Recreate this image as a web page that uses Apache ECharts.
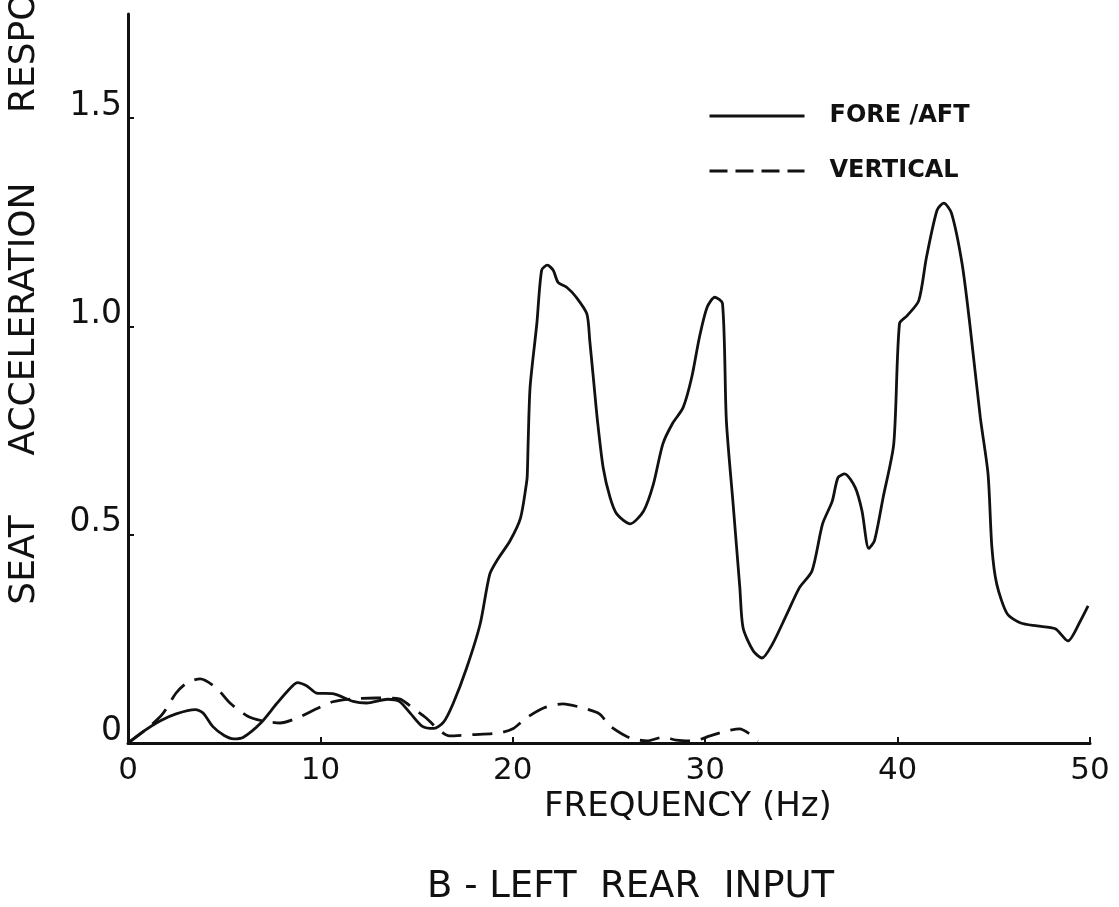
<!DOCTYPE html>
<html>
<head>
<meta charset="utf-8">
<title>Seat acceleration response – left rear input</title>
<script src="https://cdn.jsdelivr.net/npm/echarts@6/dist/echarts.min.js"></script>
<style>
  html, body { margin: 0; padding: 0; background: #fff; }
  #chart { width: 1119px; height: 907px; }
</style>
</head>
<body>
<div id="chart"></div>
<script>
// Fore/aft seat acceleration response vs. frequency (Hz)
const foreAftFreq = [
  0, 0.8, 1.66, 2.5, 3.5, 3.9, 4.4, 5.0, 5.5, 6.0, 6.9, 7.7, 8.3, 8.8, 9.3, 9.8,
  10.7, 11.7, 12.4, 13.5, 14.1, 14.7, 15.3, 15.9, 16.4, 16.9, 17.6, 18.3, 18.8,
  19.2, 19.85, 20.4, 20.7, 20.75, 20.8, 20.9, 21.25, 21.5, 21.8, 22.1, 22.35,
  22.8, 23.3, 23.85, 24.0, 24.2, 24.4, 24.7, 25.05, 25.4, 26.1, 26.8, 27.3,
  27.8, 28.3, 28.85, 29.3, 29.7, 30.1, 30.5, 30.9, 31.1, 31.45, 31.8, 31.97,
  32.5, 32.95, 33.5, 34.25, 34.9, 35.55, 36.1, 36.6, 36.9, 37.25, 37.8, 38.15,
  38.5, 38.8, 39.25, 39.8, 40.1, 40.5, 41.1, 41.5, 42.05, 42.4, 42.8, 43.35,
  43.75, 44.3, 44.7, 44.9, 45.15, 45.7, 46.4, 47.25, 48.2, 48.85, 49.5, 49.9
];
const foreAft = [
  0, 0.028, 0.053, 0.07, 0.08, 0.072, 0.04, 0.018, 0.01, 0.014, 0.048, 0.093,
  0.125, 0.145, 0.137, 0.12, 0.118, 0.10, 0.096, 0.105, 0.1, 0.07, 0.04, 0.035,
  0.05, 0.095, 0.18, 0.285, 0.405, 0.44, 0.485, 0.54, 0.62, 0.64, 0.725, 0.855,
  1.007, 1.135, 1.147, 1.135, 1.106, 1.094, 1.07, 1.03, 0.966, 0.87, 0.774,
  0.66, 0.59, 0.55, 0.526, 0.557, 0.62, 0.718, 0.767, 0.805, 0.878, 0.974,
  1.046, 1.07, 1.055, 0.774, 0.574, 0.373, 0.276, 0.221, 0.204, 0.238, 0.31,
  0.373, 0.413, 0.526, 0.58, 0.637, 0.646, 0.613, 0.557, 0.467, 0.486, 0.59,
  0.718, 1.007, 1.026, 1.062, 1.166, 1.279, 1.296, 1.272, 1.151, 1.007, 0.781,
  0.646, 0.47, 0.382, 0.31, 0.288, 0.281, 0.274, 0.245, 0.293, 0.329
];

// Vertical seat acceleration response vs. frequency (Hz)
const verticalFreq = [
  0, 1.0, 1.8, 2.5, 3.05, 3.75, 4.6, 5.3, 6.2, 7.0, 7.9, 8.8, 9.8, 10.65, 11.7,
  12.9, 14.1, 14.8, 15.5, 16.05, 16.7, 17.9, 19.3, 20.0, 20.7, 21.6, 22.6,
  23.65, 24.5, 25.05, 26.1, 27.0, 27.8, 28.5, 29.4, 30.25, 31.1, 31.8, 32.3, 32.75
];
const vertical = [
  0, 0.035, 0.07, 0.12, 0.144, 0.154, 0.132, 0.096, 0.065, 0.053, 0.048, 0.06,
  0.082, 0.099, 0.106, 0.108, 0.106, 0.084, 0.06, 0.036, 0.017, 0.02, 0.024,
  0.034, 0.06, 0.084, 0.094, 0.084, 0.07, 0.041, 0.012, 0.005, 0.014, 0.007,
  0.005, 0.017, 0.029, 0.034, 0.022, 0.005
];

const xTicks = [0, 10, 20, 30, 40, 50];
const yTicks = [0, 0.5, 1.0, 1.5];

const seriesNames = ['FORE /AFT', 'VERTICAL'];
const xTitle = 'FREQUENCY (Hz)';
const yTitleWords = ['SEAT', 'ACCELERATION', 'RESPONSE'];
const caption = 'B - LEFT  REAR  INPUT';

const zip = (xs, ys) => xs.map((x, i) => [x, ys[i]]);

const INK = '#111';
const FONT = '"DejaVu Sans", "Liberation Sans", sans-serif';
const Y_TITLE_FONT = '36px ' + FONT;

const chart = echarts.init(document.getElementById('chart'), null, { renderer: 'canvas' });

chart.setOption({
  backgroundColor: '#fff',
  animation: false,
  grid: { left: 128, right: 29, top: 14, bottom: 164, containLabel: false },
  title: [
    {
      text: xTitle, left: 544, top: 790, padding: 0,
      textStyle: { fontFamily: FONT, fontSize: 34, fontWeight: 'normal', color: INK }
    },
    {
      text: caption, left: 427, top: 869, padding: 0,
      textStyle: { fontFamily: FONT, fontSize: 37, fontWeight: 'normal', color: INK }
    }
  ],
  legend: {
    orient: 'vertical',
    left: 708,
    top: 104,
    padding: 0,
    itemWidth: 95,
    itemHeight: 14,
    itemGap: 31,
    lineStyle: { width: 3 },
    itemStyle: { opacity: 0 },
    textStyle: {
      fontFamily: FONT, fontSize: 24, fontWeight: 'bold', color: INK,
      padding: [0, 0, 0, 20]
    },
    data: [
      { name: seriesNames[0] },
      { name: seriesNames[1], lineStyle: { type: [18, 8], width: 3 } }
    ]
  },
  xAxis: {
    type: 'value',
    min: 0, max: 50, interval: 10,
    axisLine: { show: true, onZero: false, lineStyle: { color: INK, width: 3 } },
    axisTick: { show: true, inside: true, length: 6, lineStyle: { color: INK, width: 2 } },
    splitLine: { show: false },
    axisLabel: {
      customValues: xTicks,
      margin: 12, fontFamily: FONT, fontSize: 31, color: INK
    }
  },
  yAxis: {
    type: 'value',
    min: 0, max: 1.75,
    axisLine: { show: true, onZero: false, lineStyle: { color: INK, width: 3 } },
    axisTick: {
      show: true, inside: true, length: 6,
      customValues: yTicks.slice(1),
      lineStyle: { color: INK, width: 2 }
    },
    splitLine: { show: false },
    axisLabel: {
      customValues: yTicks,
      margin: 6, fontFamily: FONT, fontSize: 33, color: INK,
      verticalAlign: 'bottom', lineHeight: 24,
      formatter: v => (v === 0 ? '0' : v.toFixed(1))
    }
  },
  graphic: [
    {
      type: 'text', x: 25, y: 560, rotation: Math.PI / 2,
      style: { text: yTitleWords[0], font: Y_TITLE_FONT, fill: INK, align: 'center', verticalAlign: 'middle' }
    },
    {
      type: 'text', x: 25, y: 319, rotation: Math.PI / 2,
      style: { text: yTitleWords[1], font: Y_TITLE_FONT, fill: INK, align: 'center', verticalAlign: 'middle' }
    },
    {
      type: 'text', x: 25, y: 113, rotation: Math.PI / 2,
      style: { text: yTitleWords[2], font: Y_TITLE_FONT, fill: INK, align: 'left', verticalAlign: 'middle' }
    }
  ],
  series: [
    {
      name: seriesNames[0],
      type: 'line',
      data: zip(foreAftFreq, foreAft),
      symbol: 'none',
      smooth: 0.25,
      lineStyle: { color: INK, width: 2.8, type: 'solid' },
      itemStyle: { color: INK }
    },
    {
      name: seriesNames[1],
      type: 'line',
      data: zip(verticalFreq, vertical),
      symbol: 'none',
      smooth: 0.25,
      lineStyle: { color: INK, width: 2.8, type: [20, 11] },
      itemStyle: { color: INK }
    }
  ]
});
</script>
</body>
</html>
